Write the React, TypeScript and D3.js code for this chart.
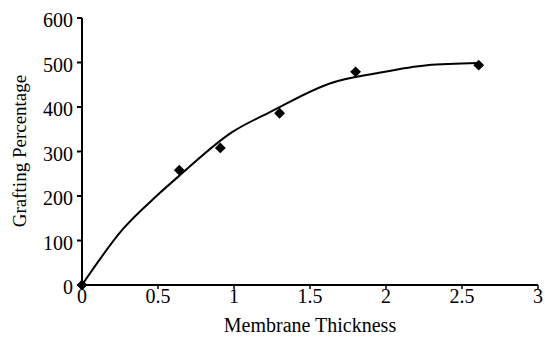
import React from 'react';
import * as d3 from 'd3';

// measured points
const thickness = [0, 0.64, 0.91, 1.3, 1.8, 2.61];
const grafting = [0, 258, 308, 386, 479, 494];

// fitted curve
const fitX = [0, 0.27, 0.49, 0.645, 0.99, 1.24, 1.64, 1.94, 2.27, 2.6];
const fitY = [0, 126, 200, 247, 344, 389, 454, 476, 494, 499];

const xTicks = [0, 0.5, 1, 1.5, 2, 2.5, 3];
const yTicks = [0, 100, 200, 300, 400, 500, 600];

const App = () => {
  const width = 545;
  const height = 339;
  const margin = { top: 18, right: 7, bottom: 54, left: 82 };

  const x = d3.scaleLinear().domain([0, 3]).range([margin.left, width - margin.right]);
  const y = d3.scaleLinear().domain([0, 600]).range([height - margin.bottom, margin.top]);

  const line = d3
    .line<number>()
    .x((d, i) => x(fitX[i]))
    .y((d) => y(d))
    .curve(d3.curveMonotoneX);

  const diamond = d3.symbol().type(d3.symbolDiamond2).size(75)();
  const font = '"Liberation Serif", "Times New Roman", Times, serif';
  const y0 = y(0);

  return (
    <svg width={width} height={height} style={{ position: 'absolute', left: 0, top: 0 }}>
      <rect width={width} height={height} fill="#fff" />
      <g fontFamily={font} fill="#000">
        {/* axes */}
        <line x1={x(0)} x2={x(0)} y1={y(600)} y2={y0} stroke="#000" strokeWidth={2} />
        <line x1={x(0)} x2={x(3)} y1={y0} y2={y0} stroke="#000" strokeWidth={2} />
        {yTicks.map((t) => (
          <g key={'y' + t}>
            <line x1={x(0) - 5} x2={x(0)} y1={y(t)} y2={y(t)} stroke="#000" strokeWidth={2} />
            <text x={x(0) - 9} y={y(t) + 9} textAnchor="end" fontSize={20}>
              {t}
            </text>
          </g>
        ))}
        {xTicks.map((t) => (
          <g key={'x' + t}>
            <line x1={x(t)} x2={x(t)} y1={y0} y2={y0 + 4} stroke="#000" strokeWidth={1.5} />
            <text x={x(t)} y={y0 + 18} textAnchor="middle" fontSize={20}>
              {t}
            </text>
          </g>
        ))}
        <text x={310} y={332} textAnchor="middle" fontSize={20}>
          Membrane Thickness
        </text>
        <text transform={`translate(26, ${151}) rotate(-90)`} textAnchor="middle" fontSize={19}>
          Grafting Percentage
        </text>
      </g>
      {/* fitted curve */}
      <path d={line(fitY) || ''} fill="none" stroke="#000" strokeWidth={2} />
      {/* data points */}
      {thickness.map((t, i) => (
        <path key={i} d={diamond || ''} transform={`translate(${x(t)}, ${y(grafting[i])})`} fill="#000" />
      ))}
    </svg>
  );
};

export default App;
